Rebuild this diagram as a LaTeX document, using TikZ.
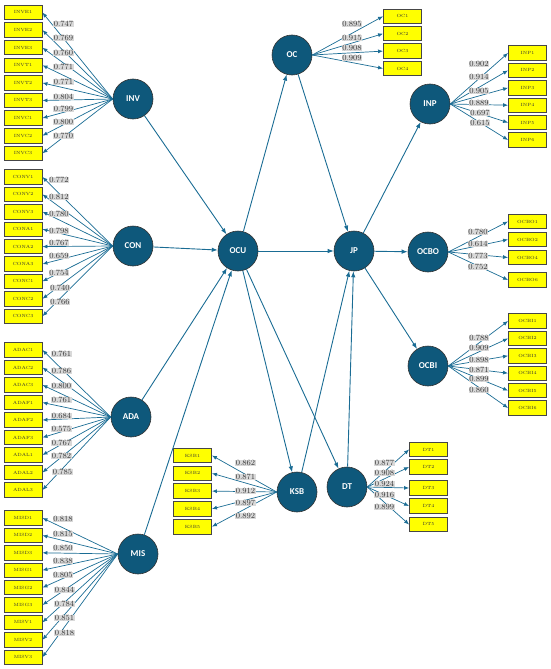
\documentclass[tikz,border=0pt]{standalone}
\usepackage{fontspec}
\newfontfamily\lvfont{Carlito}
\usetikzlibrary{arrows.meta}
\definecolor{lvblue}{RGB}{14,88,123}
\definecolor{pathblue}{RGB}{26,108,148}
\definecolor{mvyellow}{RGB}{255,255,0}
\definecolor{mvborder}{RGB}{70,70,70}
\definecolor{ldgray}{RGB}{217,217,217}
\definecolor{ldtext}{RGB}{55,55,55}

\begin{document}
\begin{tikzpicture}[x=1pt, y=-1pt,
  lv/.style={circle, draw=black!80, line width=0.6pt, fill=lvblue, minimum size=40pt, inner sep=0pt, text=white, font=\lvfont\bfseries\fontsize{9}{9}\selectfont},
  mv/.style={rectangle, draw=mvborder, line width=0.9pt, fill=mvyellow, minimum width=38pt, minimum height=14.5pt, inner sep=0pt, text=black!80, font=\fontsize{4.5}{5}\selectfont},
  ld/.style={fill=ldgray, inner sep=0.6pt, text=ldtext, font=\fontsize{8}{8}\selectfont},
  structpath/.style={draw=pathblue, line width=0.9pt, -{Latex[length=6pt,width=4.5pt]}},
  loadpath/.style={draw=pathblue, line width=0.7pt, -{Latex[length=5pt,width=4pt]}}]
  \useasboundingbox (0,0) rectangle (550,669);

  % latent variables
  \node[lv] (INV) at (133,99) {INV};
  \node[lv] (CON) at (133,246) {CON};
  \node[lv] (ADA) at (131,417) {ADA};
  \node[lv] (MIS) at (138,554) {MIS};
  \node[lv] (OCU) at (238,251) {OCU};
  \node[lv] (OC) at (292,55) {OC};
  \node[lv] (JP) at (354,251) {JP};
  \node[lv] (INP) at (430,104) {INP};
  \node[lv] (OCBO) at (428,252) {OCBO};
  \node[lv] (OCBI) at (428,366) {OCBI};
  \node[lv] (KSB) at (297,492) {KSB};
  \node[lv] (DT) at (347,487) {DT};

  % indicators
  \node[mv] (INVE1) at (23,12.5) {INVE1};
  \node[mv] (INVE2) at (23,30.1) {INVE2};
  \node[mv] (INVE3) at (23,47.7) {INVE3};
  \node[mv] (INVT1) at (23,65.3) {INVT1};
  \node[mv] (INVT2) at (23,82.9) {INVT2};
  \node[mv] (INVT3) at (23,100.5) {INVT3};
  \node[mv] (INVC1) at (23,118.1) {INVC1};
  \node[mv] (INVC2) at (23,135.7) {INVC2};
  \node[mv] (INVC3) at (23,153.3) {INVC3};

  \node[mv] (CONV1) at (23,177) {CONV1};
  \node[mv] (CONV2) at (23,194.4) {CONV2};
  \node[mv] (CONV3) at (23,211.8) {CONV3};
  \node[mv] (CONA1) at (23,229.2) {CONA1};
  \node[mv] (CONA2) at (23,246.6) {CONA2};
  \node[mv] (CONA3) at (23,264) {CONA3};
  \node[mv] (CONC1) at (23,281.4) {CONC1};
  \node[mv] (CONC2) at (23,298.8) {CONC2};
  \node[mv] (CONC3) at (23,316.2) {CONC3};

  \node[mv] (ADAC1) at (23,350) {ADAC1};
  \node[mv] (ADAC2) at (23,367.5) {ADAC2};
  \node[mv] (ADAC3) at (23,385) {ADAC3};
  \node[mv] (ADAF1) at (23,402.5) {ADAF1};
  \node[mv] (ADAF2) at (23,420) {ADAF2};
  \node[mv] (ADAF3) at (23,437.5) {ADAF3};
  \node[mv] (ADAL1) at (23,455) {ADAL1};
  \node[mv] (ADAL2) at (23,472.5) {ADAL2};
  \node[mv] (ADAL3) at (23,490) {ADAL3};

  \node[mv] (MISD1) at (23,518) {MISD1};
  \node[mv] (MISD2) at (23,535.4) {MISD2};
  \node[mv] (MISD3) at (23,552.8) {MISD3};
  \node[mv] (MISG1) at (23,570.2) {MISG1};
  \node[mv] (MISG2) at (23,587.6) {MISG2};
  \node[mv] (MISG3) at (23,605) {MISG3};
  \node[mv] (MISV1) at (23,622.4) {MISV1};
  \node[mv] (MISV2) at (23,639.8) {MISV2};
  \node[mv] (MISV3) at (23,657.2) {MISV3};

  \node[mv] (OC1) at (402.5,16.3) {OC1};
  \node[mv] (OC2) at (402.5,33.7) {OC2};
  \node[mv] (OC3) at (402.5,51.1) {OC3};
  \node[mv] (OC4) at (402.5,68.5) {OC4};

  \node[mv] (INP1) at (527.5,53) {INP1};
  \node[mv] (INP2) at (527.5,70.4) {INP2};
  \node[mv] (INP3) at (527.5,87.8) {INP3};
  \node[mv] (INP4) at (527.5,105.2) {INP4};
  \node[mv] (INP5) at (527.5,122.6) {INP5};
  \node[mv] (INP6) at (527.5,140) {INP6};

  \node[mv] (OCBO1) at (527.5,221.5) {OCBO1};
  \node[mv] (OCBO2) at (527.5,239.5) {OCBO2};
  \node[mv] (OCBO4) at (527.5,257.5) {OCBO4};
  \node[mv] (OCBO6) at (527.5,280) {OCBO6};

  \node[mv] (OCBI1) at (527.5,321) {OCBI1};
  \node[mv] (OCBI2) at (527.5,338.4) {OCBI2};
  \node[mv] (OCBI3) at (527.5,355.8) {OCBI3};
  \node[mv] (OCBI4) at (527.5,373.2) {OCBI4};
  \node[mv] (OCBI5) at (527.5,390.6) {OCBI5};
  \node[mv] (OCBI6) at (527.5,408) {OCBI6};

  \node[mv] (KSB1) at (192.5,455.5) {KSB1};
  \node[mv] (KSB2) at (192.5,473.3) {KSB2};
  \node[mv] (KSB3) at (192.5,491.1) {KSB3};
  \node[mv] (KSB4) at (192.5,508.9) {KSB4};
  \node[mv] (KSB5) at (192.5,526.7) {KSB5};

  \node[mv] (DT1) at (428.5,449.5) {DT1};
  \node[mv] (DT2) at (428.5,467) {DT2};
  \node[mv] (DT3) at (428.5,488) {DT3};
  \node[mv] (DT4) at (428.5,506) {DT4};
  \node[mv] (DT5) at (428.5,524.5) {DT5};

  % structural paths
  \draw[structpath] (INV) -- (OCU);
  \draw[structpath] (CON) -- (OCU);
  \draw[structpath] (ADA) -- (OCU);
  \draw[structpath] (MIS) -- (OCU);
  \draw[structpath] (OCU) -- (OC);
  \draw[structpath] (OC) -- (JP);
  \draw[structpath] (OCU) -- (JP);
  \draw[structpath] (OCU) -- (KSB);
  \draw[structpath] (OCU) -- (DT);
  \draw[structpath] (KSB) -- (JP);
  \draw[structpath] (DT) -- (JP);
  \draw[structpath] (JP) -- (INP);
  \draw[structpath] (JP) -- (OCBO);
  \draw[structpath] (JP) -- (OCBI);

  % outer loadings
  \draw[loadpath] (INV.west) -- (INVE1.east);
  \draw[loadpath] (INV.west) -- (INVE2.east);
  \draw[loadpath] (INV.west) -- (INVE3.east);
  \draw[loadpath] (INV.west) -- (INVT1.east);
  \draw[loadpath] (INV.west) -- (INVT2.east);
  \draw[loadpath] (INV.west) -- (INVT3.east);
  \draw[loadpath] (INV.west) -- (INVC1.east);
  \draw[loadpath] (INV.west) -- (INVC2.east);
  \draw[loadpath] (INV.west) -- (INVC3.east);

  \draw[loadpath] (CON.west) -- (CONV1.east);
  \draw[loadpath] (CON.west) -- (CONV2.east);
  \draw[loadpath] (CON.west) -- (CONV3.east);
  \draw[loadpath] (CON.west) -- (CONA1.east);
  \draw[loadpath] (CON.west) -- (CONA2.east);
  \draw[loadpath] (CON.west) -- (CONA3.east);
  \draw[loadpath] (CON.west) -- (CONC1.east);
  \draw[loadpath] (CON.west) -- (CONC2.east);
  \draw[loadpath] (CON.west) -- (CONC3.east);

  \draw[loadpath] (ADA.west) -- (ADAC1.east);
  \draw[loadpath] (ADA.west) -- (ADAC2.east);
  \draw[loadpath] (ADA.west) -- (ADAC3.east);
  \draw[loadpath] (ADA.west) -- (ADAF1.east);
  \draw[loadpath] (ADA.west) -- (ADAF2.east);
  \draw[loadpath] (ADA.west) -- (ADAF3.east);
  \draw[loadpath] (ADA.west) -- (ADAL1.east);
  \draw[loadpath] (ADA.west) -- (ADAL2.east);
  \draw[loadpath] (ADA.west) -- (ADAL3.east);

  \draw[loadpath] (MIS.west) -- (MISD1.east);
  \draw[loadpath] (MIS.west) -- (MISD2.east);
  \draw[loadpath] (MIS.west) -- (MISD3.east);
  \draw[loadpath] (MIS.west) -- (MISG1.east);
  \draw[loadpath] (MIS.west) -- (MISG2.east);
  \draw[loadpath] (MIS.west) -- (MISG3.east);
  \draw[loadpath] (MIS.west) -- (MISV1.east);
  \draw[loadpath] (MIS.west) -- (MISV2.east);
  \draw[loadpath] (MIS.west) -- (MISV3.east);

  \draw[loadpath] (OC.east) -- (OC1.west);
  \draw[loadpath] (OC.east) -- (OC2.west);
  \draw[loadpath] (OC.east) -- (OC3.west);
  \draw[loadpath] (OC.east) -- (OC4.west);

  \draw[loadpath] (INP.east) -- (INP1.west);
  \draw[loadpath] (INP.east) -- (INP2.west);
  \draw[loadpath] (INP.east) -- (INP3.west);
  \draw[loadpath] (INP.east) -- (INP4.west);
  \draw[loadpath] (INP.east) -- (INP5.west);
  \draw[loadpath] (INP.east) -- (INP6.west);

  \draw[loadpath] (OCBO.east) -- (OCBO1.west);
  \draw[loadpath] (OCBO.east) -- (OCBO2.west);
  \draw[loadpath] (OCBO.east) -- (OCBO4.west);
  \draw[loadpath] (OCBO.east) -- (OCBO6.west);

  \draw[loadpath] (OCBI.east) -- (OCBI1.west);
  \draw[loadpath] (OCBI.east) -- (OCBI2.west);
  \draw[loadpath] (OCBI.east) -- (OCBI3.west);
  \draw[loadpath] (OCBI.east) -- (OCBI4.west);
  \draw[loadpath] (OCBI.east) -- (OCBI5.west);
  \draw[loadpath] (OCBI.east) -- (OCBI6.west);

  \draw[loadpath] (KSB.west) -- (KSB1.east);
  \draw[loadpath] (KSB.west) -- (KSB2.east);
  \draw[loadpath] (KSB.west) -- (KSB3.east);
  \draw[loadpath] (KSB.west) -- (KSB4.east);
  \draw[loadpath] (KSB.west) -- (KSB5.east);

  \draw[loadpath] (DT.east) -- (DT1.west);
  \draw[loadpath] (DT.east) -- (DT2.west);
  \draw[loadpath] (DT.east) -- (DT3.west);
  \draw[loadpath] (DT.east) -- (DT4.west);
  \draw[loadpath] (DT.east) -- (DT5.west);

  % loading values
  \node[ld] (lINVE1) at (63.5,24) {0.747};
  \node[ld] (lINVE2) at (63.5,38) {0.769};
  \node[ld] (lINVE3) at (63.5,53) {0.760};
  \node[ld] (lINVT1) at (63.5,67) {0.771};
  \node[ld] (lINVT2) at (63.5,82) {0.771};
  \node[ld] (lINVT3) at (63.5,97) {0.804};
  \node[ld] (lINVC1) at (63.5,109) {0.799};
  \node[ld] (lINVC2) at (63.5,122) {0.800};
  \node[ld] (lINVC3) at (63.5,136) {0.770};

  \node[ld] (lCONV1) at (59,180) {0.772};
  \node[ld] (lCONV2) at (59,197) {0.812};
  \node[ld] (lCONV3) at (59,214) {0.780};
  \node[ld] (lCONA1) at (59,231) {0.798};
  \node[ld] (lCONA2) at (59,243) {0.767};
  \node[ld] (lCONA3) at (59,256) {0.659};
  \node[ld] (lCONC1) at (59,273) {0.754};
  \node[ld] (lCONC2) at (60,288) {0.740};
  \node[ld] (lCONC3) at (60,302) {0.766};

  \node[ld] (lADAC1) at (61.5,354) {0.761};
  \node[ld] (lADAC2) at (61.5,371) {0.786};
  \node[ld] (lADAC3) at (61.5,386) {0.800};
  \node[ld] (lADAF1) at (61.5,400) {0.761};
  \node[ld] (lADAF2) at (61.5,416) {0.684};
  \node[ld] (lADAF3) at (61.5,429) {0.575};
  \node[ld] (lADAL1) at (61.5,443) {0.767};
  \node[ld] (lADAL2) at (61.5,456) {0.782};
  \node[ld] (lADAL3) at (62.5,472) {0.785};

  \node[ld] (lMISD1) at (63,519) {0.818};
  \node[ld] (lMISD2) at (63,534) {0.815};
  \node[ld] (lMISD3) at (63,548) {0.850};
  \node[ld] (lMISG1) at (63,561) {0.838};
  \node[ld] (lMISG2) at (63,575) {0.805};
  \node[ld] (lMISG3) at (64.5,590) {0.844};
  \node[ld] (lMISV1) at (64.5,604) {0.784};
  \node[ld] (lMISV2) at (64.5,618) {0.851};
  \node[ld] (lMISV3) at (64.5,633) {0.818};

  \node[ld] (lOC1) at (352,24) {0.895};
  \node[ld] (lOC2) at (352,38) {0.915};
  \node[ld] (lOC3) at (352,48) {0.908};
  \node[ld] (lOC4) at (352,58) {0.909};

  \node[ld] (lINP1) at (479,64) {0.902};
  \node[ld] (lINP2) at (479,77) {0.914};
  \node[ld] (lINP3) at (479,91) {0.905};
  \node[ld] (lINP4) at (479,103) {0.889};
  \node[ld] (lINP5) at (480,113) {0.697};
  \node[ld] (lINP6) at (480,123) {0.615};

  \node[ld] (lOCBO1) at (478,232) {0.780};
  \node[ld] (lOCBO2) at (478,244) {0.614};
  \node[ld] (lOCBO4) at (478,256) {0.773};
  \node[ld] (lOCBO6) at (478,267) {0.752};

  \node[ld] (lOCBI1) at (479,338) {0.788};
  \node[ld] (lOCBI2) at (479,348) {0.909};
  \node[ld] (lOCBI3) at (479,360) {0.898};
  \node[ld] (lOCBI4) at (479,370) {0.871};
  \node[ld] (lOCBI5) at (479,379) {0.899};
  \node[ld] (lOCBI6) at (479,390) {0.860};

  \node[ld] (lKSB1) at (245.5,463) {0.862};
  \node[ld] (lKSB2) at (245.5,477) {0.871};
  \node[ld] (lKSB3) at (245.5,491) {0.912};
  \node[ld] (lKSB4) at (245.5,503) {0.897};
  \node[ld] (lKSB5) at (245.5,516) {0.892};

  \node[ld] (lDT1) at (384.5,463) {0.877};
  \node[ld] (lDT2) at (384.5,473) {0.908};
  \node[ld] (lDT3) at (384.5,484) {0.924};
  \node[ld] (lDT4) at (384.5,495) {0.916};
  \node[ld] (lDT5) at (384.5,507) {0.899};
\end{tikzpicture}
\end{document}
